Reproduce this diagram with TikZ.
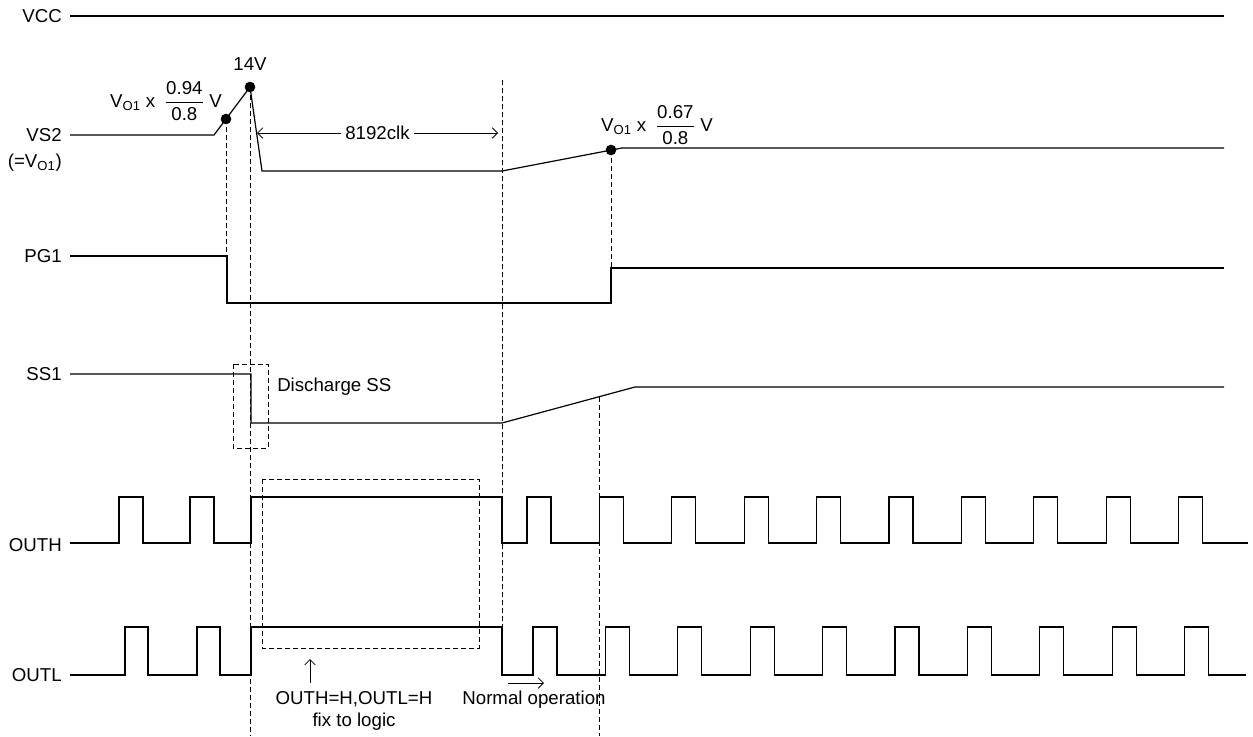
\documentclass[tikz,border=0pt]{standalone}
\usepackage{amsmath}
\usepackage{fontspec}
\setmainfont{Liberation Sans}
\usetikzlibrary{arrows.meta}

\begin{document}
\begin{tikzpicture}[
    x=0.75pt, y=-0.75pt,
    font=\fontsize{14}{17}\selectfont,
    wave/.style={line width=0.9pt, line join=miter},
    guide/.style={line width=0.7pt, dash pattern=on 3.5pt off 2.5pt},
    siglabel/.style={anchor=east, inner sep=0pt},
    note/.style={inner sep=0pt, align=center},
    dot/.style={circle, fill=black, inner sep=0pt, minimum size=8pt},
    arr/.style={-{Straight Barb[length=4pt,width=8pt]}, line width=0.6pt},
]
\useasboundingbox (0,0) rectangle (1253,736);

%% ─── Signal names ───────────────────────────────────────────────────────────
\node[siglabel] (l_vcc)  at (62,16)  {VCC};
\node[siglabel] (l_vs2)  at (62,135) {VS2};
\node[siglabel] (l_vo1)  at (62,163) {(=V\textsubscript{O1})};
\node[siglabel] (l_pg1)  at (62,256) {PG1};
\node[siglabel] (l_ss1)  at (62,374) {SS1};
\node[siglabel] (l_outh) at (62,545) {OUTH};
\node[siglabel] (l_outl) at (62,675) {OUTL};

%% ─── VCC ────────────────────────────────────────────────────────────────────
\draw[wave] (70,16) -- (1224,16);

%% ─── VS2 ────────────────────────────────────────────────────────────────────
\coordinate (vs_knee) at (226,119);
\coordinate (vs_peak) at (250,87);
\coordinate (vs_good) at (611,150);
\draw[wave] (70,135) -- (214,135) -- (vs_peak) -- (262,171)
    -- (502,171) -- (622,148) -- (1224,148);
\node[dot] (d_knee) at (vs_knee) {};
\node[dot] (d_peak) at (vs_peak) {};
\node[dot] (d_good) at (vs_good) {};

\node[note] (t_peak) at (250,64) {14V};
\node[note] (t_ovp) at (166,101)
    {V\textsubscript{O1} x\enspace$\dfrac{\text{0.94}}{\text{0.8}}$ V};
\node[note] (t_pg) at (657,125)
    {V\textsubscript{O1} x\enspace$\dfrac{\text{0.67}}{\text{0.8}}$ V};

%% 8192clk span
\coordinate (clk_a) at (257,133);
\coordinate (clk_b) at (498,133);
\draw[arr, {Straight Barb[length=4pt,width=8pt]}-{Straight Barb[length=4pt,width=8pt]}]
    (clk_a) -- node[fill=white, inner sep=3pt] (t_clk) {8192clk} (clk_b);

%% ─── PG1 ────────────────────────────────────────────────────────────────────
\draw[wave] (70,256) -- (227,256) -- (227,303) -- (611,303)
    -- (611,268) -- (1224,268);

%% ─── SS1 ────────────────────────────────────────────────────────────────────
\draw[wave] (70,374) -- (251,374) -- (251,423) -- (502,423)
    -- (635,387) -- (1224,387);
\draw[guide] (233,364) rectangle (268,448);
\node[note, anchor=west] (t_dis) at (277,387) {Discharge SS};

%% ─── OUTH ───────────────────────────────────────────────────────────────────
\draw[wave] (70,543)
    \foreach \i in {0,1} { -- ({119+71*\i},543) -- ++(0,-46) -- ++(24,0) -- ++(0,46) }
    -- (251,543) -- (251,497) -- (502,497) -- (502,543)
    \foreach \i in {0,...,9} { -- ({527+72.4*\i},543) -- ++(0,-46) -- ++(24,0) -- ++(0,46) }
    -- (1248,543);

%% ─── OUTL ───────────────────────────────────────────────────────────────────
\draw[wave] (70,675)
    \foreach \i in {0,1} { -- ({125+72*\i},675) -- ++(0,-48) -- ++(23,0) -- ++(0,48) }
    -- (251,675) -- (251,627) -- (502,627) -- (502,675)
    \foreach \i in {0,...,9} { -- ({533+72.4*\i},675) -- ++(0,-48) -- ++(24,0) -- ++(0,48) }
    -- (1246,675);

\draw[guide] (262,479) rectangle (479,648);

%% ─── Timing guides ──────────────────────────────────────────────────────────
\draw[guide] (vs_knee) -- (226,256);
\draw[guide] (vs_peak) -- (250,736);
\draw[guide] (502,80)  -- (502,675);
\draw[guide] (vs_good) -- (611,268);
\draw[guide] (599,397) -- (599,736);

%% ─── Annotations ────────────────────────────────────────────────────────────
\coordinate (fix_a) at (310,683);
\coordinate (fix_b) at (310,659);
\draw[arr] (fix_a) -- (fix_b);
\node[note] (t_fix) at (354,711) {OUTH=H,OUTL=H\\fix to logic};

\coordinate (norm_a) at (508,683);
\coordinate (norm_b) at (544,683);
\draw[arr] (norm_a) -- (norm_b);
\node[note] (t_norm) at (534,700) {Normal operation};

\end{tikzpicture}
\end{document}
